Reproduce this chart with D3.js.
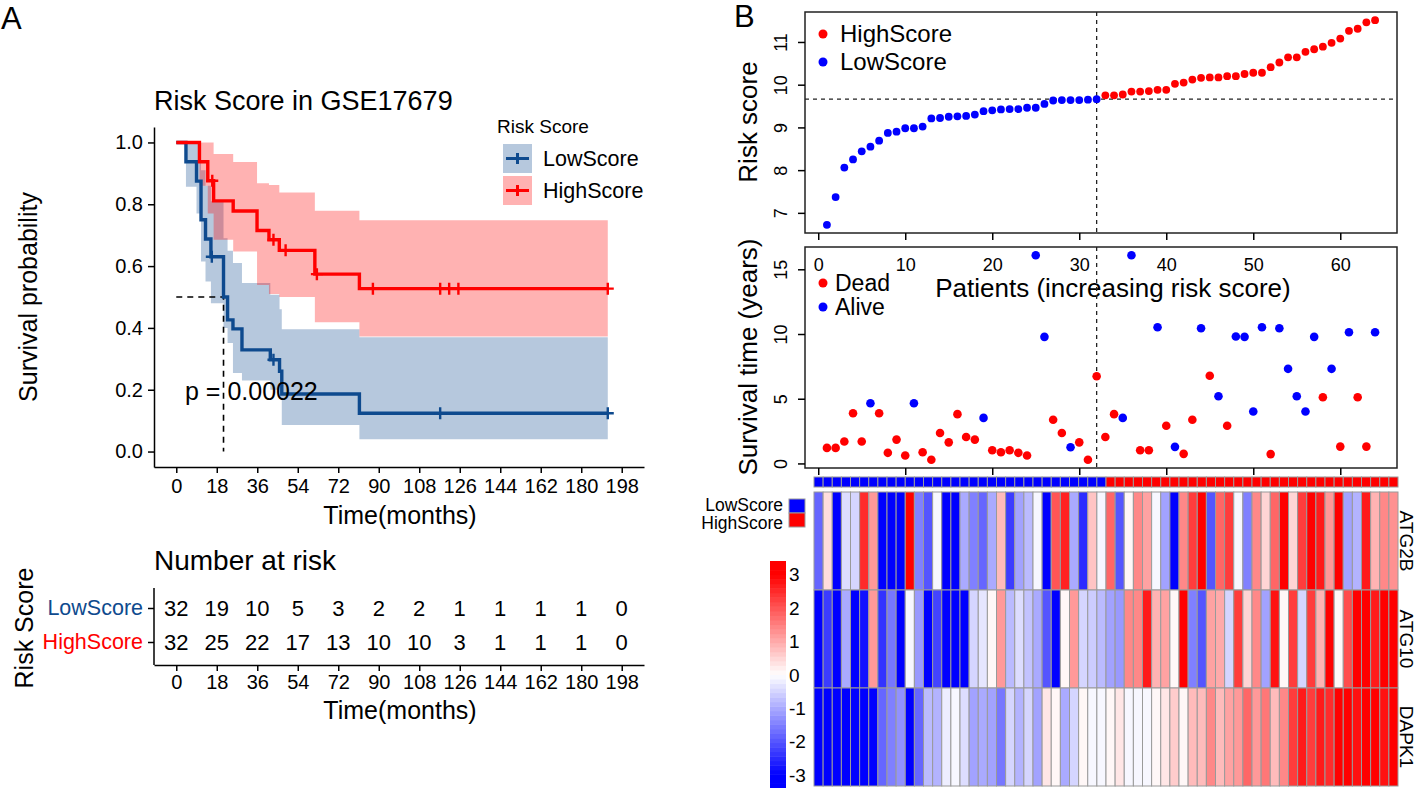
<!DOCTYPE html>
<html>
<head>
<meta charset="utf-8">
<script src="https://cdn.jsdelivr.net/npm/d3@7"></script>
<style>
  body { margin: 0; background: #fff; }
  svg { font-family: "Liberation Sans", Arial, Helvetica, sans-serif; }
</style>
</head>
<body>
<svg id="fig" width="1416" height="788"></svg>
<script>
// ---------- data ----------
const groupNames = ["LowScore", "HighScore"];
const kmTicks = [0, 18, 36, 54, 72, 90, 108, 126, 144, 162, 180, 198];

// Kaplan-Meier steps (months), survival and 95% band
const lowTime  = [0, 4.3, 9.0, 11.0, 13.0, 15.4, 21.0, 22.8, 25.2, 29.2, 41.8, 45.9, 46.9, 81.4];
const lowSurv  = [1, 0.9375, 0.875, 0.75, 0.6875, 0.63, 0.5, 0.426, 0.397, 0.329, 0.297, 0.26, 0.186, 0.124];
const lowUpper = [1, 1, 1, 0.91, 0.86, 0.81, 0.69, 0.65, 0.61, 0.545, 0.507, 0.46, 0.396, 0.37];
const lowLower = [1, 0.857, 0.77, 0.615, 0.55, 0.48, 0.40, 0.351, 0.254, 0.23, 0.2, 0.17, 0.086, 0.04];
const lowEnd = 191.8;
const lowCensor = [15.8, 43.2, 117.3, 191.8];

const highTime  = [0, 10.3, 14.0, 16.6, 25.3, 35.9, 41.2, 45.8, 61.6, 81.4];
const highSurv  = [1, 0.9375, 0.876, 0.811, 0.778, 0.715, 0.685, 0.651, 0.574, 0.527];
const highUpper = [1, 1, 1, 0.963, 0.937, 0.868, 0.862, 0.838, 0.779, 0.748];
const highLower = [1, 0.86, 0.77, 0.685, 0.647, 0.539, 0.51, 0.50, 0.418, 0.372];
const highEnd = 191.8;
const highCensor = [16.0, 43.2, 48.6, 62.5, 87.4, 117.3, 121.3, 125.4, 191.8];

const pText = "p = 0.00022";
const riskLow  = [32, 19, 10, 5, 3, 2, 2, 1, 1, 1, 1, 0];
const riskHigh = [32, 25, 22, 17, 13, 10, 10, 3, 1, 1, 1, 0];

// patients sorted by risk score
const riskScore = [6.72, 7.37, 8.06, 8.25, 8.44, 8.55, 8.69, 8.87, 8.90, 8.98, 8.98, 9.02, 9.21, 9.22, 9.25, 9.26,
  9.27, 9.30, 9.38, 9.40, 9.42, 9.43, 9.43, 9.46, 9.46, 9.55, 9.63, 9.64, 9.64, 9.64, 9.65, 9.66,
  9.75, 9.75, 9.77, 9.84, 9.84, 9.85, 9.88, 9.88, 10.02, 10.05, 10.12, 10.16, 10.17, 10.17, 10.20, 10.20,
  10.25, 10.28, 10.28, 10.41, 10.52, 10.64, 10.64, 10.77, 10.83, 10.89, 10.98, 11.08, 11.26, 11.31, 11.46, 11.51];
const lowN = 32;
const survYears = [1.20, 1.20, 1.69, 3.88, 1.69, 4.65, 3.88, 0.82, 1.84, 0.61, 4.65, 0.87, 0.28, 2.35, 1.63, 3.81,
  2.04, 1.84, 3.52, 1.02, 0.87, 1.02, 0.82, 0.61, 16.09, 9.78, 3.37, 2.35, 1.25, 1.63, 0.28, 6.74,
  2.04, 3.81, 3.52, 16.09, 1.02, 1.02, 10.52, 2.91, 1.28, 0.74, 3.37, 10.45, 6.77, 5.19, 2.91, 9.81,
  9.78, 4.01, 10.52, 0.72, 10.45, 7.31, 5.19, 4.01, 9.78, 5.11, 7.31, 1.30, 10.14, 5.11, 1.30, 10.14];
const dead = [1, 1, 1, 1, 1, 0, 1, 1, 1, 1, 0, 1, 1, 1, 1, 1, 1, 1, 0, 1, 1, 1, 1, 1, 0, 0, 1, 1, 0, 1, 1, 1,
  1, 1, 0, 0, 1, 1, 0, 1, 0, 1, 1, 0, 1, 0, 1, 0, 0, 0, 0, 1, 0, 0, 0, 0, 0, 1, 0, 1, 0, 1, 1, 0];
const patientTicks = [0, 10, 20, 30, 40, 50, 60];
const riskTicks = [7, 8, 9, 10, 11];
const survTicks = [0, 5, 10, 15];

// heatmap (row z-scores)
const geneNames = ["ATG2B", "ATG10", "DAPK1"];
const atg2b = [-1.8, 0.4, -3, -0.4, -0.5, 2.5, 1.2, -3, -3, -3, 3, -1.5, -2, -0.1, -3, -3,
  -1.0, -1.5, -1.8, -1.0, 0.8, -2.3, -1.1, -0.8, -0.1, -3, 2.0, 2.6, -1.0, -2.5, 0.7, -0.1,
  1.8, -2.0, 0.1, 1.4, 1.1, -0.1, -1.1, -3, 1.4, 2.3, 3, -2.0, 1.8, 2.3, -0.1, -1.5,
  1.4, 0.5, 1.8, 3, 0.5, 2.3, 3, 2.7, 1.2, 3, -1.1, -0.9, 2.7, 0.9, 1.4, 1.3];
const atg10 = [-3, -2.3, -3, -1.0, -3, -2.8, 1.2, -2.4, -1.6, -3, -0.1, -1.2, -3, -2.2, -3, -3,
  -3, -0.5, -0.3, 0.1, 1.2, -0.8, -0.4, -0.7, -1.0, -2.0, -3, 0.1, 1.2, -0.5, -0.6, -0.8,
  -1.1, -1.2, 1.4, 1.4, 2.7, 0.9, 1.1, 0.1, 3, -1.5, -2.0, 1.1, 1.0, -0.5, 2.3, 0.5,
  1.4, -1.1, 2.8, 0.1, 2.3, -0.5, 2.3, 0.9, 3, 0.1, 2.1, 3, 3, 2.7, 3, 3];
const dapk1 = [-3, -3, -3, -3, -3, -3, -3, -1.8, -1.5, -1.3, -3, -1.8, -0.8, -0.9, -0.2, -0.1,
  -0.4, -1.1, -1.0, -1.1, -1.6, -0.5, -0.9, -0.5, -1.1, 0.3, 0.1, -1.0, -0.5, 0.1, -0.1, -0.1,
  0.1, 0.3, -0.1, -0.1, -0.1, 0.1, 0.3, 0.6, 0.1, 0.8, 0.8, 1.4, 0.8, 1.1, 1.2, 1.8,
  1.2, 1.6, 0.8, 1.4, 2.3, 2.7, 2.3, 2.7, 2.5, 3, 3, 2.8, 3, 3, 2.8, 3];
const legendTicks = [3, 2, 1, 0, -1, -2, -3];

// ---------- drawing ----------
const svg = d3.select("#fig");
const LOW_COL = "#0E4A8E";
const HIGH_COL = "#FF0000";

function styleAxis(g, size) {
    g.select(".domain").attr("stroke", "#000").attr("stroke-width", 1.5);
    g.selectAll(".tick line").attr("stroke", "#000").attr("stroke-width", 1.5);
    g.selectAll(".tick text").attr("font-size", size).attr("fill", "#000");
}

function stepRows(times, surv, upper, lower, end) {
    const rows = times.map((t, i) => ({t: t, s: surv[i], hi: upper[i], lo: lower[i]}));
    const last = rows[rows.length - 1];
    rows.push({t: end, s: last.s, hi: last.hi, lo: last.lo});
    return rows;
}

function survAt(times, surv, t) {
    return surv[d3.bisectRight(times, t) - 1];
}

svg.append("text").attr("x", 1).attr("y", 29).attr("font-size", 31).text("A");
svg.append("text").attr("x", 734).attr("y", 27).attr("font-size", 31).text("B");

// ---- panel A: Kaplan-Meier ----
const kmX = d3.scaleLinear().domain([-9.9, 207.9]).range([154, 644]);
const kmY = d3.scaleLinear().domain([-0.05, 1.05]).range([467, 127]);
const km = svg.append("g");

km.append("text").attr("x", 154).attr("y", 110).attr("font-size", 27).text("Risk Score in GSE17679");

const groups = [
    {rows: stepRows(lowTime, lowSurv, lowUpper, lowLower, lowEnd), time: lowTime, surv: lowSurv, censor: lowCensor, col: LOW_COL},
    {rows: stepRows(highTime, highSurv, highUpper, highLower, highEnd), time: highTime, surv: highSurv, censor: highCensor, col: HIGH_COL}
];

const band = d3.area().curve(d3.curveStepAfter)
    .x(d => kmX(d.t)).y0(d => kmY(d.lo)).y1(d => kmY(d.hi));
const step = d3.line().curve(d3.curveStepAfter)
    .x(d => kmX(d.t)).y(d => kmY(d.s));

groups.forEach(g => {
    km.append("path").attr("d", band(g.rows)).attr("fill", g.col).attr("fill-opacity", 0.3);
});

// median survival guide (LowScore only reaches 0.5)
const medLow = lowTime[lowSurv.findIndex(s => s <= 0.5)];
km.append("path")
    .attr("d", `M${kmX(0)},${kmY(0.5)}H${kmX(medLow)}V${kmY(0)}`)
    .attr("fill", "none").attr("stroke", "#000").attr("stroke-width", 1.6)
    .attr("stroke-dasharray", "6,5");

groups.forEach(g => {
    km.append("path").attr("d", step(g.rows)).attr("fill", "none")
        .attr("stroke", g.col).attr("stroke-width", 3.4);
    km.selectAll(null).data(g.censor).enter().append("path")
        .attr("transform", t => `translate(${kmX(t)},${kmY(survAt(g.time, g.surv, t))})`)
        .attr("d", "M-6,0H6M0,-6V6")
        .attr("stroke", g.col).attr("stroke-width", 2.4);
});

km.append("text").attr("x", 185).attr("y", 400).attr("font-size", 25).text(pText);

const kmXAxis = km.append("g").attr("transform", "translate(0,467)")
    .call(d3.axisBottom(kmX).tickValues(kmTicks).tickSize(6).tickSizeOuter(0).tickPadding(6));
styleAxis(kmXAxis, 20);
const kmYAxis = km.append("g").attr("transform", "translate(154,0)")
    .call(d3.axisLeft(kmY).tickValues([0, 0.2, 0.4, 0.6, 0.8, 1]).tickFormat(d3.format(".1f"))
        .tickSize(6).tickSizeOuter(0).tickPadding(5));
styleAxis(kmYAxis, 20);

km.append("text").attr("x", 400).attr("y", 524).attr("text-anchor", "middle")
    .attr("font-size", 25).text("Time(months)");
km.append("text").attr("transform", "translate(37,297) rotate(-90)").attr("text-anchor", "middle")
    .attr("font-size", 25).text("Survival probability");

// legend
km.append("text").attr("x", 497).attr("y", 133).attr("font-size", 19).text("Risk Score");
const kmLegend = km.selectAll(".kml").data(groups).enter().append("g")
    .attr("transform", (d, i) => `translate(503,${144 + i * 32})`);
kmLegend.append("rect").attr("width", 29).attr("height", 29)
    .attr("fill", d => d.col).attr("fill-opacity", 0.3);
kmLegend.append("path").attr("d", "M3,14.5H26M14.5,9V20")
    .attr("stroke", d => d.col).attr("stroke-width", 3);
kmLegend.append("text").attr("x", 40).attr("y", 22).attr("font-size", 21.5)
    .text((d, i) => groupNames[i]);

// risk table
const tbl = svg.append("g");
tbl.append("text").attr("x", 154).attr("y", 570).attr("font-size", 28).text("Number at risk");
const tblY = d3.scalePoint().domain(groupNames).range([608, 642]);
[riskLow, riskHigh].forEach((counts, i) => {
    tbl.selectAll(null).data(counts).enter().append("text")
        .attr("x", (d, j) => kmX(kmTicks[j])).attr("y", tblY(groupNames[i]) + 8)
        .attr("text-anchor", "middle").attr("font-size", 22).text(d => d);
});
const tblYAxis = tbl.append("g").attr("transform", "translate(154,0)")
    .call(d3.axisLeft(tblY).tickSize(6).tickSizeOuter(0).tickPadding(5));
tblYAxis.select(".domain").attr("d", "M0,588V665");
styleAxis(tblYAxis, 21.5);
tblYAxis.selectAll(".tick text").attr("fill", (d, i) => i === 0 ? LOW_COL : HIGH_COL);
const tblXAxis = tbl.append("g").attr("transform", "translate(0,665)")
    .call(d3.axisBottom(kmX).tickValues(kmTicks).tickSize(6).tickSizeOuter(0).tickPadding(4));
styleAxis(tblXAxis, 20);
tbl.append("text").attr("x", 400).attr("y", 719).attr("text-anchor", "middle")
    .attr("font-size", 25).text("Time(months)");
tbl.append("text").attr("transform", "translate(33,628) rotate(-90)").attr("text-anchor", "middle")
    .attr("font-size", 25).text("Risk Score");

// ---- panel B ----
const n = riskScore.length;
const idx = d3.range(1, n + 1);
const pad = (lo, hi) => [lo - (hi - lo) * 0.04, hi + (hi - lo) * 0.04];
const px = d3.scaleLinear().domain(pad(1, n)).range([805, 1397]);
const ry = d3.scaleLinear().domain(pad(...d3.extent(riskScore))).range([233, 12]);
const sy = d3.scaleLinear().domain(pad(...d3.extent(survYears))).range([468, 247]);
const cutoff = riskScore[lowN - 1];

function rotateYLabels(g) {
    g.selectAll(".tick text").attr("x", null).attr("dy", null).attr("text-anchor", "middle")
        .attr("transform", "translate(-18,0) rotate(-90)");
}

const p1 = svg.append("g");
p1.append("rect").attr("x", 805).attr("y", 12).attr("width", 592).attr("height", 221)
    .attr("fill", "none").attr("stroke", "#222").attr("stroke-width", 1.5);
const p1y = p1.append("g").attr("transform", "translate(805,0)")
    .call(d3.axisLeft(ry).tickValues(riskTicks).tickFormat(d3.format("d")).tickSize(7).tickSizeOuter(0));
styleAxis(p1y, 18); p1y.select(".domain").remove(); rotateYLabels(p1y);
const p1x = p1.append("g").attr("transform", "translate(0,233)")
    .call(d3.axisBottom(px).tickValues(patientTicks).tickSize(7).tickSizeOuter(0).tickPadding(18));
styleAxis(p1x, 18); p1x.select(".domain").remove();
p1.append("text").attr("x", 1113).attr("y", 297).attr("text-anchor", "middle")
    .attr("font-size", 26).text("Patients (increasing risk score)");
p1.append("text").attr("transform", "translate(757,122) rotate(-90)").attr("text-anchor", "middle")
    .attr("font-size", 26).text("Risk score");
p1.append("line").attr("x1", 805).attr("x2", 1397).attr("y1", ry(cutoff)).attr("y2", ry(cutoff))
    .attr("stroke", "#222").attr("stroke-width", 1.3).attr("stroke-dasharray", "4,4");
p1.append("line").attr("x1", px(lowN)).attr("x2", px(lowN)).attr("y1", 12).attr("y2", 233)
    .attr("stroke", "#222").attr("stroke-width", 1.3).attr("stroke-dasharray", "4,4");
p1.selectAll(".rs").data(riskScore).enter().append("circle")
    .attr("cx", (d, i) => px(idx[i])).attr("cy", d => ry(d)).attr("r", 3.9)
    .attr("fill", (d, i) => i < lowN ? "#0000FF" : "#FF0000");
[["HighScore", "#FF0000"], ["LowScore", "#0000FF"]].forEach(([name, col], i) => {
    p1.append("circle").attr("cx", 823).attr("cy", 34 + i * 28).attr("r", 4.5).attr("fill", col);
    p1.append("text").attr("x", 840).attr("y", 42 + i * 28).attr("font-size", 24).text(name);
});

const p2 = svg.append("g");
p2.append("rect").attr("x", 805).attr("y", 247).attr("width", 592).attr("height", 221)
    .attr("fill", "none").attr("stroke", "#222").attr("stroke-width", 1.5);
const p2y = p2.append("g").attr("transform", "translate(805,0)")
    .call(d3.axisLeft(sy).tickValues(survTicks).tickFormat(d3.format("d")).tickSize(7).tickSizeOuter(0));
styleAxis(p2y, 18); p2y.select(".domain").remove(); rotateYLabels(p2y);
const p2x = p2.append("g").attr("transform", "translate(0,468)")
    .call(d3.axisBottom(px).tickValues(patientTicks).tickSize(7).tickSizeOuter(0).tickFormat(""));
styleAxis(p2x, 18); p2x.select(".domain").remove();
p2.append("text").attr("transform", "translate(757,357) rotate(-90)").attr("text-anchor", "middle")
    .attr("font-size", 26).text("Survival time (years)");
p2.append("line").attr("x1", px(lowN)).attr("x2", px(lowN)).attr("y1", 247).attr("y2", 468)
    .attr("stroke", "#222").attr("stroke-width", 1.3).attr("stroke-dasharray", "4,4");
p2.selectAll(".st").data(survYears).enter().append("circle")
    .attr("cx", (d, i) => px(idx[i])).attr("cy", d => sy(d)).attr("r", 4.3)
    .attr("fill", (d, i) => dead[i] ? "#FF0000" : "#0000FF");
[["Dead", "#FF0000"], ["Alive", "#0000FF"]].forEach(([name, col], i) => {
    p2.append("circle").attr("cx", 823).attr("cy", 283 + i * 24).attr("r", 4.5).attr("fill", col);
    p2.append("text").attr("x", 835).attr("y", 291 + i * 24).attr("font-size", 23).text(name);
});

// ---- heatmap ----
const hm = svg.append("g");
const hx = d3.scaleBand().domain(d3.range(n)).range([814, 1398]);
const hy = d3.scaleBand().domain(geneNames).range([492, 786]);
const heat = d3.scaleLinear().domain([-3, 0, 3]).range(["#0000FF", "#FFFFFF", "#FF0000"]).clamp(true);
const CELL_BORDER = "#9a9a9a";

hm.selectAll(".ann").data(idx).enter().append("rect")
    .attr("x", (d, i) => hx(i)).attr("y", 477).attr("width", hx.bandwidth()).attr("height", 10)
    .attr("fill", (d, i) => i < lowN ? "#0000FF" : "#FF0000")
    .attr("stroke", CELL_BORDER).attr("stroke-width", 1);

[atg2b, atg10, dapk1].forEach((vals, r) => {
    hm.selectAll(null).data(vals).enter().append("rect")
        .attr("x", (d, i) => hx(i)).attr("y", hy(geneNames[r]))
        .attr("width", hx.bandwidth()).attr("height", hy.bandwidth())
        .attr("fill", d => heat(d)).attr("stroke", CELL_BORDER).attr("stroke-width", 1);
    hm.append("text")
        .attr("transform", `translate(1400,${hy(geneNames[r]) + hy.bandwidth() / 2}) rotate(90)`)
        .attr("text-anchor", "middle").attr("font-size", 19).text(geneNames[r]);
});

// annotation legend
[["LowScore", "#0000FF"], ["HighScore", "#FF0000"]].forEach(([name, col], i) => {
    hm.append("rect").attr("x", 789).attr("y", 499 + i * 14).attr("width", 16).attr("height", 14)
        .attr("fill", col).attr("stroke", CELL_BORDER);
    hm.append("text").attr("x", 783).attr("y", 511 + i * 18).attr("text-anchor", "end")
        .attr("font-size", 17.5).text(name);
});

// colour key
const ky = d3.scaleLinear().domain([-3.4, 3.4]).range([788, 561]);
const keySteps = d3.range(-3.4, 3.4, 0.136);
hm.selectAll(".key").data(keySteps).enter().append("rect")
    .attr("x", 770).attr("width", 16)
    .attr("y", d => ky(d + 0.136)).attr("height", d => ky(d) - ky(d + 0.136) + 0.5)
    .attr("fill", d => heat(d + 0.068));
hm.selectAll(".keyl").data(legendTicks).enter().append("text")
    .attr("x", 789).attr("y", d => ky(d) + 7).attr("font-size", 19).text(d => d);
</script>
</body>
</html>
